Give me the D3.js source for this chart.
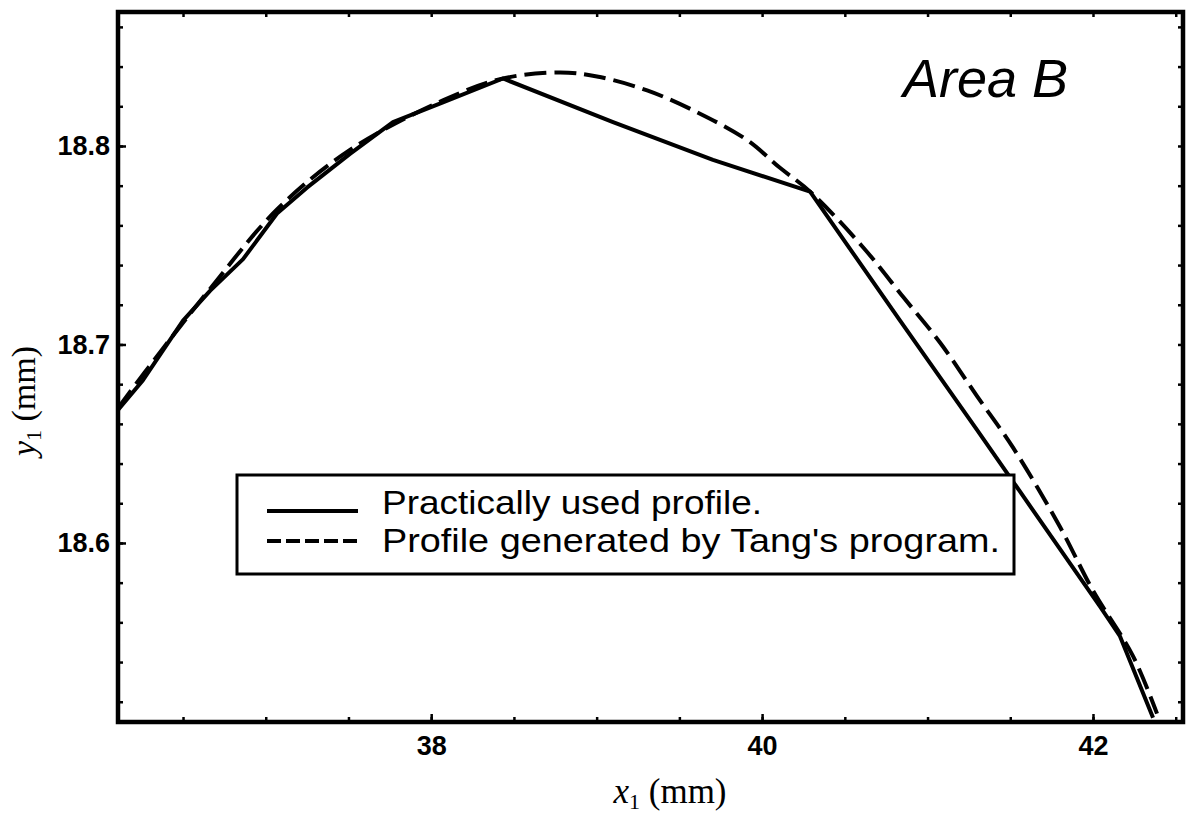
<!DOCTYPE html>
<html>
<head>
<meta charset="utf-8">
<script src="https://cdn.jsdelivr.net/npm/d3@7"></script>
<style>
  html, body { margin: 0; padding: 0; background: #fff; }
  svg { display: block; }
</style>
</head>
<body>
<svg id="chart" width="1193" height="822"></svg>
<script>
// Profile coordinates x1, y1 in mm
const usedX = [36.107, 36.258, 36.379, 36.500, 36.663, 36.863, 37.068, 37.249, 37.509, 37.769, 38.071, 38.434,
               39.099, 39.703, 40.290, 40.834, 41.299, 42.042, 42.163, 42.363];
const usedY = [18.667, 18.682, 18.697, 18.712, 18.727, 18.743, 18.766, 18.779, 18.796, 18.812, 18.822, 18.834,
               18.812, 18.793, 18.777, 18.712, 18.657, 18.568, 18.553, 18.512];

const tangX = [36.107, 36.379, 36.663, 37.068, 37.509, 38.071, 38.434, 38.779, 39.002, 39.305, 39.607, 39.909,
               40.108, 40.290, 40.610, 40.852, 41.075, 41.299, 41.517, 41.801, 42.000, 42.242, 42.387];
const tangY = [18.668, 18.698, 18.728, 18.768, 18.798, 18.823, 18.834, 18.837, 18.835, 18.828, 18.817, 18.803,
               18.789, 18.777, 18.749, 18.724, 18.701, 18.674, 18.648, 18.608, 18.576, 18.543, 18.514];

const xMajorTicks = [38, 40, 42];
const yMajorTicks = [18.6, 18.7, 18.8];
const xMinorTicks = d3.range(36.5, 42.51, 0.5);
const yMinorTicks = d3.range(18.52, 18.861, 0.02).map(v => +v.toFixed(2));

const legendLabels = ["Practically used profile.", "Profile generated by Tang's program."];
const areaLabel = "Area B";

const svg = d3.select("#chart");
const plotLeft = 118, plotRight = 1183, plotTop = 12, plotBottom = 722;

const x = d3.scaleLinear().domain([36.107, 42.544]).range([plotLeft, plotRight]);
const y = d3.scaleLinear().domain([18.5098, 18.8675]).range([plotBottom, plotTop]);

svg.append("defs").append("clipPath").attr("id", "plotClip")
  .append("rect").attr("x", plotLeft).attr("y", plotTop)
  .attr("width", plotRight - plotLeft).attr("height", plotBottom - plotTop);

const line = d3.line().x(d => x(d[0])).y(d => y(d[1]));
const smooth = d3.line().x(d => x(d[0])).y(d => y(d[1])).curve(d3.curveCatmullRom.alpha(0.5));

const plot = svg.append("g").attr("clip-path", "url(#plotClip)");

plot.append("path")
  .datum(tangX.map((v, i) => [v, tangY[i]]))
  .attr("d", smooth)
  .attr("fill", "none").attr("stroke", "#000").attr("stroke-width", 4)
  .attr("stroke-dasharray", "22,8");

plot.append("path")
  .datum(usedX.map((v, i) => [v, usedY[i]]))
  .attr("d", line)
  .attr("fill", "none").attr("stroke", "#000").attr("stroke-width", 4)
  .attr("stroke-linejoin", "round");

// Axes: inward ticks on all four sides
function styleAxis(g) {
  g.select(".domain").remove();
  g.selectAll(".tick line").attr("stroke", "#000").attr("stroke-width", 2.5);
}

svg.append("g").attr("transform", `translate(0,${plotBottom})`)
  .call(d3.axisBottom(x).tickValues(xMinorTicks).tickSize(-5).tickFormat(""))
  .call(styleAxis);
svg.append("g").attr("transform", `translate(0,${plotTop})`)
  .call(d3.axisTop(x).tickValues(xMinorTicks).tickSize(-5).tickFormat(""))
  .call(styleAxis);
svg.append("g").attr("transform", `translate(${plotLeft},0)`)
  .call(d3.axisLeft(y).tickValues(yMinorTicks).tickSize(-5).tickFormat(""))
  .call(styleAxis);
svg.append("g").attr("transform", `translate(${plotRight},0)`)
  .call(d3.axisRight(y).tickValues(yMinorTicks).tickSize(-5).tickFormat(""))
  .call(styleAxis);

const xAxis = svg.append("g").attr("transform", `translate(0,${plotBottom})`)
  .call(d3.axisBottom(x).tickValues(xMajorTicks).tickSize(-8).tickPadding(14).tickFormat(d3.format("d")))
  .call(styleAxis);
xAxis.selectAll("text")
  .attr("font-family", "'Liberation Sans', Arial, sans-serif")
  .attr("font-weight", "bold").attr("font-size", 27).attr("fill", "#000");

const yAxis = svg.append("g").attr("transform", `translate(${plotLeft},0)`)
  .call(d3.axisLeft(y).tickValues(yMajorTicks).tickSize(-8).tickPadding(8).tickFormat(d3.format(".1f")))
  .call(styleAxis);
yAxis.selectAll("text")
  .attr("font-family", "'Liberation Sans', Arial, sans-serif")
  .attr("font-weight", "bold").attr("font-size", 27).attr("fill", "#000");

// Frame
svg.append("rect")
  .attr("x", plotLeft).attr("y", plotTop)
  .attr("width", plotRight - plotLeft).attr("height", plotBottom - plotTop)
  .attr("fill", "none").attr("stroke", "#000").attr("stroke-width", 4.5);

// Axis titles
const xt = svg.append("text")
  .attr("x", 670).attr("y", 803).attr("text-anchor", "middle")
  .attr("font-family", "'Liberation Serif', 'Times New Roman', serif").attr("font-size", 35).attr("fill", "#000");
xt.append("tspan").attr("font-style", "italic").text("x");
xt.append("tspan").attr("font-size", 22).attr("dy", 6).text("1");
xt.append("tspan").attr("dy", -6).text(" (mm)");

const yt = svg.append("text")
  .attr("transform", "translate(35,401) rotate(-90)").attr("text-anchor", "middle")
  .attr("font-family", "'Liberation Serif', 'Times New Roman', serif").attr("font-size", 34).attr("fill", "#000");
yt.append("tspan").attr("font-style", "italic").text("y");
yt.append("tspan").attr("font-size", 22).attr("dy", 6).text("1");
yt.append("tspan").attr("dy", -6).text(" (mm)");

// Area label
svg.append("text")
  .attr("x", 903).attr("y", 97)
  .attr("font-family", "'Liberation Sans', Arial, sans-serif").attr("font-style", "italic")
  .attr("font-size", 54).attr("fill", "#000").text(areaLabel);

// Legend
const legend = svg.append("g");
legend.append("rect")
  .attr("x", 237).attr("y", 475).attr("width", 777).attr("height", 99)
  .attr("fill", "#fff").attr("stroke", "#000").attr("stroke-width", 3);
const legendRows = [
  { label: legendLabels[0], dash: null, ly: 511, ty: 514, len: 380 },
  { label: legendLabels[1], dash: "14,5", ly: 541, ty: 552, len: 618 }
];
legendRows.forEach(r => {
  legend.append("line")
    .attr("x1", 267).attr("x2", 358).attr("y1", r.ly).attr("y2", r.ly)
    .attr("stroke", "#000").attr("stroke-width", 4)
    .attr("stroke-dasharray", r.dash);
  legend.append("text")
    .attr("x", 382).attr("y", r.ty)
    .attr("font-family", "'Liberation Sans', Arial, sans-serif")
    .attr("font-size", 34).attr("fill", "#000")
    .attr("textLength", r.len).attr("lengthAdjust", "spacingAndGlyphs")
    .text(r.label);
});
</script>
</body>
</html>
